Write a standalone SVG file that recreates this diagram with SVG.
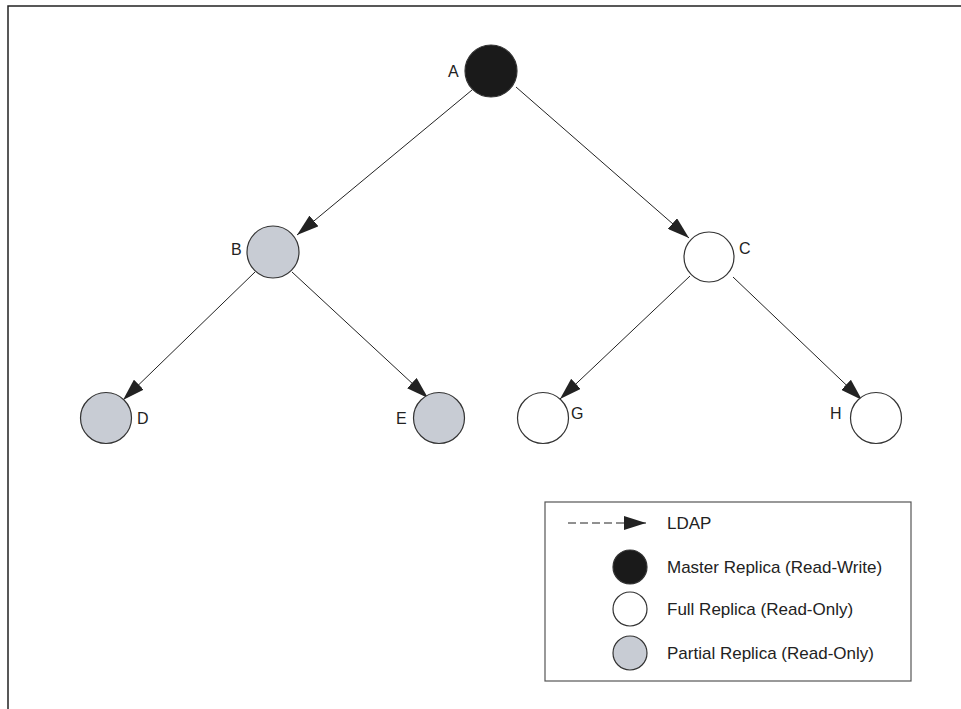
<svg xmlns="http://www.w3.org/2000/svg" width="961" height="709" viewBox="0 0 961 709">
<defs>
<style>
.frame{fill:none;stroke:#222;stroke-width:1.5}
.edge{stroke:#222;stroke-width:1;fill:none}
.node{stroke:#333;stroke-width:1.2}
.master{fill:#1a1a1a}
.full{fill:#fff}
.partial{fill:#c8ccd4}
.lbl{font-family:"Liberation Sans",Arial,sans-serif;font-size:16px;fill:#222}
.leg{font-family:"Liberation Sans",Arial,sans-serif;font-size:17px;fill:#222}
</style>
<marker id="ah" viewBox="0 0 22 14" refX="22" refY="7" markerWidth="22" markerHeight="14" markerUnits="userSpaceOnUse" orient="auto">
<path d="M0,0 L22,7 L0,14 Z" fill="#222"/>
</marker>
</defs>
<rect width="961" height="709" fill="#fff"/>
<path class="frame" d="M8,709 L8,6 L961,6"/>
<g id="connectors">
<line class="edge" x1="472" y1="90" x2="297" y2="235" marker-end="url(#ah)"/>
<line class="edge" x1="516" y1="87" x2="689" y2="238" marker-end="url(#ah)"/>
<line class="edge" x1="255" y1="272" x2="123" y2="400" marker-end="url(#ah)"/>
<line class="edge" x1="292" y1="272" x2="428" y2="398" marker-end="url(#ah)"/>
<line class="edge" x1="690" y1="276" x2="560" y2="399" marker-end="url(#ah)"/>
<line class="edge" x1="733" y1="277" x2="862" y2="400" marker-end="url(#ah)"/>
</g>
<g id="node-A"><circle class="node master" cx="491" cy="71" r="26"/><text class="lbl" x="448" y="77">A</text></g>
<g id="node-B"><circle class="node partial" cx="273" cy="252" r="26"/><text class="lbl" x="231" y="255">B</text></g>
<g id="node-C"><circle class="node full" cx="709" cy="257" r="25"/><text class="lbl" x="739" y="254">C</text></g>
<g id="node-D"><circle class="node partial" cx="106" cy="418" r="25.5"/><text class="lbl" x="137" y="424">D</text></g>
<g id="node-E"><circle class="node partial" cx="439" cy="418" r="25.5"/><text class="lbl" x="396" y="424">E</text></g>
<g id="node-G"><circle class="node full" cx="543" cy="418" r="25.5"/><text class="lbl" x="571" y="419">G</text></g>
<g id="node-H"><circle class="node full" cx="876" cy="418" r="25.5"/><text class="lbl" x="830" y="419">H</text></g>
<g id="legend">
<rect x="545" y="502" width="366" height="179" fill="#fff" stroke="#555" stroke-width="1.2"/>
<line x1="568" y1="523" x2="646" y2="523" stroke="#222" stroke-width="1" stroke-dasharray="8,4" marker-end="url(#ah)"/>
<text class="leg" x="667" y="529">LDAP</text>
<circle class="node master" cx="630" cy="567" r="17"/>
<text class="leg" x="667" y="573">Master Replica (Read-Write)</text>
<circle class="node full" cx="630" cy="609" r="17"/>
<text class="leg" x="667" y="615">Full Replica (Read-Only)</text>
<circle class="node partial" cx="630" cy="653" r="17"/>
<text class="leg" x="667" y="659">Partial Replica (Read-Only)</text>
</g>
</svg>
